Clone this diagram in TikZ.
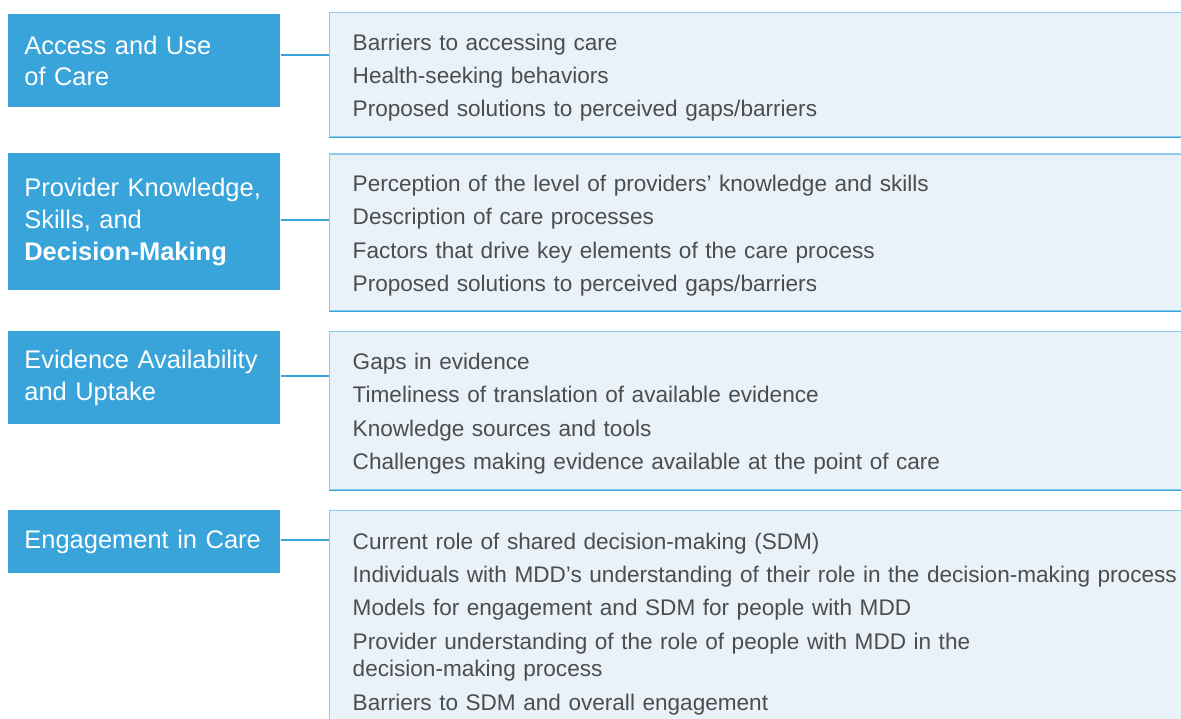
\documentclass[tikz,border=0pt]{standalone}
\usepackage{fontspec}
\setmainfont{Liberation Sans}
\usetikzlibrary{calc}
\definecolor{topicblue}{RGB}{56,164,218}
\definecolor{detailfill}{RGB}{233,241,249}
\definecolor{detailedge}{RGB}{141,202,235}
\definecolor{detailtext}{RGB}{77,77,77}

\tikzset{
    topic/.style={anchor=north west, fill=topicblue, text=white, minimum width=5.44cm, text width=4.8cm, inner xsep=0.32cm, inner ysep=0pt, align=left, font=\fontsize{14.5}{18.1}\selectfont},
    detail/.style={anchor=north west, fill=detailfill, draw=detailedge, line width=0.8pt, text=detailtext, text width=16.8cm, inner xsep=0.46cm, inner ysep=0pt, align=left, font=\fontsize{12.85}{15.65}\selectfont, execute at begin node={\rule{0pt}{12.8pt}}},
    link/.style={topicblue, line width=1.1pt},
}

\begin{document}
\begin{tikzpicture}

    \useasboundingbox (0,0) rectangle (23.62,-14.38);

    % topics on the left
    \node[topic, minimum height=1.86cm] (acc) at (0.16,-0.28) {Access and Use\\of Care};
    \node[topic, minimum height=2.74cm] (prov) at (0.16,-3.06) {Provider Knowledge,\\Skills, and\\\textbf{Decision-Making}};
    \node[topic, minimum height=1.86cm] (evid) at (0.16,-6.62) {Evidence Availability\\and Uptake};
    \node[topic, minimum height=1.26cm] (eng) at (0.16,-10.2) {Engagement in Care};

    % details on the right
    \node[detail, minimum height=2.48cm] (det1) at (6.58,-0.24) {Barriers to accessing care\\[3.35pt]
        Health-seeking behaviors\\[3.35pt]
        Proposed solutions to perceived gaps/barriers};
    \node[detail, minimum height=3.13cm] (det2) at (6.58,-3.07) {Perception of the level of providers’ knowledge and skills\\[3.35pt]
        Description of care processes\\[3.35pt]
        Factors that drive key elements of the care process\\[3.35pt]
        Proposed solutions to perceived gaps/barriers};
    \node[detail, minimum height=3.16cm] (det3) at (6.58,-6.62) {Gaps in evidence\\[3.35pt]
        Timeliness of translation of available evidence\\[3.35pt]
        Knowledge sources and tools\\[3.35pt]
        Challenges making evidence available at the point of care};
    \node[detail, minimum height=4.4cm] (det4) at (6.58,-10.2) {Current role of shared decision-making (SDM)\\[3.35pt]
        Individuals with MDD’s understanding of their role in the decision-making process\\[3.35pt]
        Models for engagement and SDM for people with MDD\\[3.35pt]
        Provider understanding of the role of people with MDD in the\\
        decision-making process\\[3.35pt]
        Barriers to SDM and overall engagement};

    % darker lower edges
    \draw[link, line width=0.8pt] (det1.south west) -- (det1.south east);
    \draw[link, line width=0.8pt] (det2.south west) -- (det2.south east);
    \draw[link, line width=0.8pt] (det3.south west) -- (det3.south east);

    % connectors
    \draw[link] ([yshift=0.11cm]acc.east) -- ([yshift=0.11cm]acc.east -| det1.west);
    \draw[link] ([yshift=0.03cm]prov.east) -- ([yshift=0.03cm]prov.east -| det2.west);
    \draw[link] ([yshift=0.03cm]evid.east) -- ([yshift=0.03cm]evid.east -| det3.west);
    \draw[link] ([yshift=0.03cm]eng.east) -- ([yshift=0.03cm]eng.east -| det4.west);

\end{tikzpicture}
\end{document}
